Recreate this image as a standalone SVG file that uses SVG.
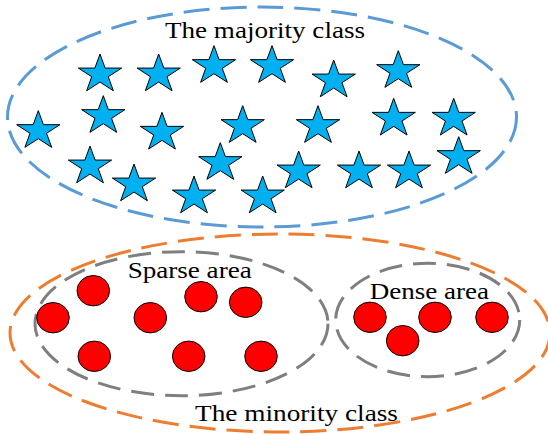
<svg xmlns="http://www.w3.org/2000/svg" xmlns:xlink="http://www.w3.org/1999/xlink" width="548" height="434" viewBox="0 0 548 434">
  <style>
    .bg { fill: #ffffff; }
    .region { fill: none; stroke-width: 3; }
    .blue { stroke: #5B9BD5; stroke-dasharray: 26 11; }
    .orange { stroke: #ED7D31; stroke-dasharray: 26 11; }
    .gray { stroke: #7F7F7F; stroke-dasharray: 23 11; }
    .star { fill: #00B0F0; stroke: #000000; stroke-width: 1; stroke-linejoin: miter; }
    .dot { fill: #FF0000; stroke: #000000; stroke-width: 1; }
    .label { font-family: "Liberation Serif", "Times New Roman", serif; font-size: 24px; fill: #000000; }
  </style>
  <defs>
    <polygon id="star5" points="0,-18.35 5.11,-4.33 21.65,-4.33 8.27,4.33 13.39,18.35 0,9.69 -13.39,18.35 -8.27,4.33 -21.65,-4.33 -5.11,-4.33"/>
  </defs>
  <rect class="bg" x="0" y="0" width="548" height="434"/>

  <g id="majority-class">
    <ellipse class="region blue" cx="262" cy="117" rx="254.5" ry="110"/>
    <text class="label" x="165" y="37.5" textLength="200" lengthAdjust="spacingAndGlyphs">The majority class</text>
    <g id="stars">
      <use xlink:href="#star5" class="star" x="100" y="72.4"/>
      <use xlink:href="#star5" class="star" x="158.7" y="72.4"/>
      <use xlink:href="#star5" class="star" x="214" y="64"/>
      <use xlink:href="#star5" class="star" x="272" y="64"/>
      <use xlink:href="#star5" class="star" x="333.7" y="78.4"/>
      <use xlink:href="#star5" class="star" x="398.3" y="69"/>
      <use xlink:href="#star5" class="star" x="38.3" y="129"/>
      <use xlink:href="#star5" class="star" x="103.3" y="114"/>
      <use xlink:href="#star5" class="star" x="162" y="130.7"/>
      <use xlink:href="#star5" class="star" x="242.7" y="124"/>
      <use xlink:href="#star5" class="star" x="318" y="124"/>
      <use xlink:href="#star5" class="star" x="393.7" y="116.7"/>
      <use xlink:href="#star5" class="star" x="453.7" y="116.7"/>
      <use xlink:href="#star5" class="star" x="90" y="164.4"/>
      <use xlink:href="#star5" class="star" x="134" y="182.4"/>
      <use xlink:href="#star5" class="star" x="220.3" y="161"/>
      <use xlink:href="#star5" class="star" x="194" y="194.4"/>
      <use xlink:href="#star5" class="star" x="262.7" y="194.4"/>
      <use xlink:href="#star5" class="star" x="298.7" y="169.4"/>
      <use xlink:href="#star5" class="star" x="359" y="169.4"/>
      <use xlink:href="#star5" class="star" x="409" y="169.4"/>
      <use xlink:href="#star5" class="star" x="458.7" y="155"/>
    </g>
  </g>

  <g id="minority-class">
    <ellipse class="region orange" cx="280" cy="333" rx="270" ry="99"/>
    <text class="label" x="195" y="420.5" textLength="203" lengthAdjust="spacingAndGlyphs">The minority class</text>

    <g id="sparse-area">
      <ellipse class="region gray" cx="181.5" cy="323.7" rx="146.5" ry="72"/>
      <text class="label" x="127.7" y="278.3" textLength="124" lengthAdjust="spacingAndGlyphs">Sparse area</text>
      <ellipse class="dot" cx="93.3" cy="290.7" rx="16.3" ry="15.2"/>
      <ellipse class="dot" cx="53" cy="317.7" rx="16.3" ry="15.2"/>
      <ellipse class="dot" cx="150.3" cy="317.7" rx="16.3" ry="15.2"/>
      <ellipse class="dot" cx="201" cy="296.7" rx="16.3" ry="15.2"/>
      <ellipse class="dot" cx="245.7" cy="302.3" rx="16.3" ry="15.2"/>
      <ellipse class="dot" cx="94.3" cy="356.3" rx="16.3" ry="15.2"/>
      <ellipse class="dot" cx="188.7" cy="356.3" rx="16.3" ry="15.2"/>
      <ellipse class="dot" cx="261" cy="356.3" rx="16.3" ry="15.2"/>
    </g>

    <g id="dense-area">
      <ellipse class="region gray" cx="427.7" cy="320" rx="92" ry="56.7"/>
      <text class="label" x="369.7" y="299" textLength="119.3" lengthAdjust="spacingAndGlyphs">Dense area</text>
      <ellipse class="dot" cx="370" cy="317.3" rx="16.3" ry="15.2"/>
      <ellipse class="dot" cx="435" cy="317.3" rx="16.3" ry="15.2"/>
      <ellipse class="dot" cx="492" cy="317.3" rx="16.3" ry="15.2"/>
      <ellipse class="dot" cx="402.7" cy="340.7" rx="16.3" ry="15.2"/>
    </g>
  </g>
  <g id="connectors"/>
</svg>
